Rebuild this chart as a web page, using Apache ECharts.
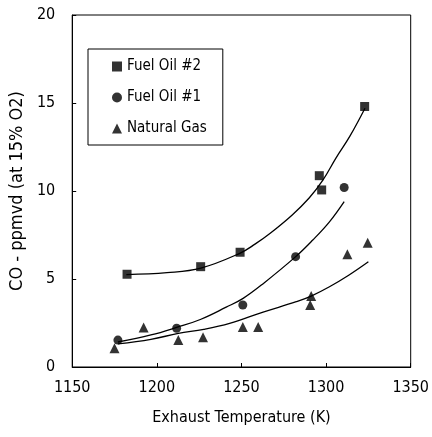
<!DOCTYPE html>
<html>
<head>
<meta charset="utf-8">
<script src="https://cdn.jsdelivr.net/npm/echarts@6/dist/echarts.min.js"></script>
<style>html,body{margin:0;padding:0;background:#fff}#c{width:432px;height:437px}</style>
</head>
<body>
<div id="c"></div>
<script>
// Measured points
const fuelOil2 = [[1182.4,5.27],[1225.9,5.7],[1249.2,6.52],[1296,10.87],[1297.4,10.06],[1322.8,14.8]];
const fuelOil1 = [[1177,1.53],[1211.7,2.2],[1250.8,3.52],[1282,6.27],[1310.7,10.2]];
const naturalGas = [[1175,1.06],[1192.2,2.25],[1212.7,1.53],[1227.3,1.69],[1250.8,2.27],[1259.9,2.27],[1291.2,4.03],[1290.6,3.52],[1312.6,6.4],[1324.6,7.06]];
// Fitted curves as drawn
const fitFuelOil2 = [[1182,5.25],[1206,5.36],[1226,5.62],[1249,6.46],[1258,6.98],[1267,7.6],[1280,8.64],[1290,9.6],[1298,10.6],[1306,11.9],[1314,13.1],[1323,14.7]];
const fitFuelOil1 = [[1177,1.42],[1196.5,1.82],[1211.7,2.25],[1225.7,2.7],[1241,3.4],[1251,3.9],[1263,4.75],[1282.4,6.3],[1292,7.2],[1302,8.25],[1310.7,9.4]];
const fitNaturalGas = [[1177,1.31],[1196.5,1.57],[1212.7,1.91],[1227.7,2.14],[1243,2.48],[1262.8,3.12],[1282.4,3.71],[1291.2,4.03],[1302,4.56],[1313.6,5.23],[1325,5.98]];
const xTicks = {min:1150,max:1350,interval:50};
const yTicks = {min:0,max:20,interval:5};

const font = "'Liberation Sans Narrow', 'DejaVu Sans Condensed', sans-serif";
const chart = echarts.init(document.getElementById('c'), null, {renderer:'canvas'});
const lineStyleFit = {color:'#000', width:1.3};
chart.setOption({
  backgroundColor:'#fff',
  animation:false,
  grid:{left:70, right:20, top:15, bottom:70, show:true, borderColor:'#000', borderWidth:1, backgroundColor:'transparent'},
  legend:{
    data:['Fuel Oil #2','Fuel Oil #1','Natural Gas'],
    orient:'vertical', left:88, top:49,
    padding:[10,16,9,24], itemGap:16, itemWidth:10, itemHeight:10,
    borderColor:'#000', borderWidth:1, backgroundColor:'#fff',
    textStyle:{fontFamily:font, fontSize:15, color:'#000'},
    itemStyle:{color:'#000'}
  },
  xAxis:{
    type:'value', min:xTicks.min, max:xTicks.max, interval:xTicks.interval,
    name:'Exhaust Temperature (K)', nameLocation:'middle', nameGap:43,
    nameTextStyle:{fontFamily:font, fontSize:16, color:'#000'},
    axisLine:{lineStyle:{color:'#000', width:1}},
    axisTick:{inside:true, length:4, lineStyle:{color:'#000'}},
    axisLabel:{fontFamily:font, fontSize:16, color:'#000', margin:13, formatter:v=>String(v)},
    splitLine:{show:false}
  },
  yAxis:{
    type:'value', min:yTicks.min, max:yTicks.max, interval:yTicks.interval,
    name:'CO - ppmvd (at 15% O2)', nameLocation:'middle', nameGap:37,
    nameTextStyle:{fontFamily:font, fontSize:18, color:'#000'},
    axisLine:{lineStyle:{color:'#000', width:1}},
    axisTick:{inside:true, length:4, lineStyle:{color:'#000'}},
    axisLabel:{fontFamily:font, fontSize:16, color:'#000', margin:17, formatter:v=>String(v)},
    splitLine:{show:false}
  },
  series:[
    {name:'fit2', type:'line', data:fitFuelOil2, smooth:0.4, symbol:'none', lineStyle:lineStyleFit, silent:true},
    {name:'fit1', type:'line', data:fitFuelOil1, smooth:0.4, symbol:'none', lineStyle:lineStyleFit, silent:true},
    {name:'fitG', type:'line', data:fitNaturalGas, smooth:0.4, symbol:'none', lineStyle:lineStyleFit, silent:true},
    {name:'Fuel Oil #2', type:'scatter', data:fuelOil2, symbol:'rect', symbolSize:9, itemStyle:{color:'#000'}},
    {name:'Fuel Oil #1', type:'scatter', data:fuelOil1, symbol:'circle', symbolSize:9, itemStyle:{color:'#000'}},
    {name:'Natural Gas', type:'scatter', data:naturalGas, symbol:'triangle', symbolSize:[10,10], itemStyle:{color:'#000'}}
  ]
});
</script>
</body>
</html>
